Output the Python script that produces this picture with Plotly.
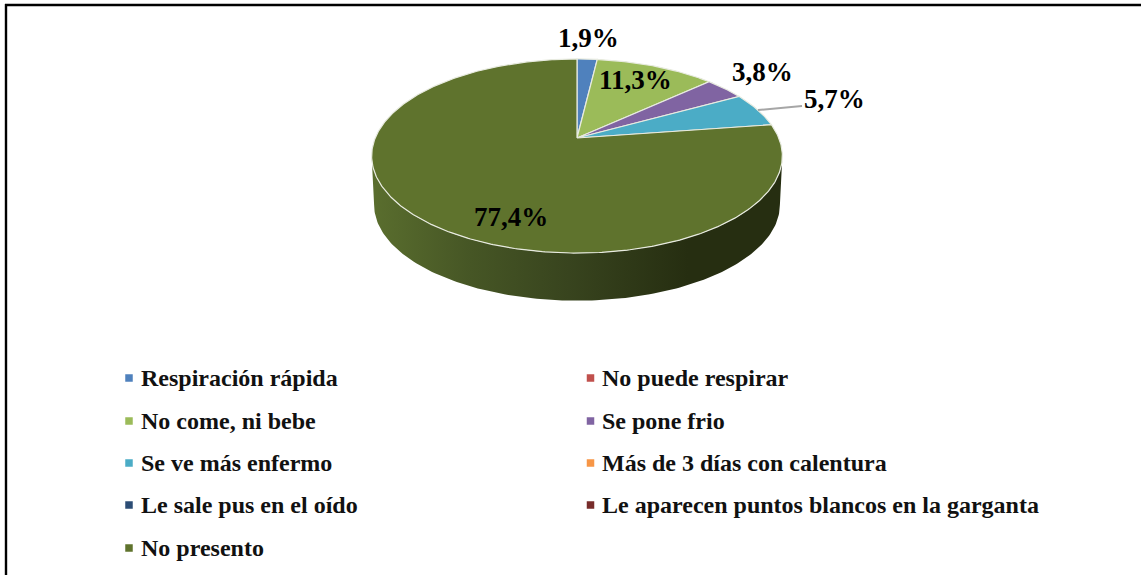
import numpy as np
import plotly.graph_objects as go

CATEGORIES = [
    "Respiración rápida", "No puede respirar", "No come, ni bebe", "Se pone frio",
    "Se ve más enfermo", "Más de 3 días con calentura", "Le sale pus en el oído",
    "Le aparecen puntos blancos en la garganta", "No presento",
]
VALUES = [1.9, 0, 11.3, 3.8, 5.7, 0, 0, 0, 77.4]
LABELS = ["1,9%", "", "11,3%", "3,8%", "5,7%", "", "", "", "77,4%"]
COLORS = ["#4f81bd", "#c0504d", "#9bbb59", "#8064a2", "#4bacc6", "#f79646", "#2c4d75", "#772c2a", "#5f732d"]

SERIF = "Liberation Serif"
CX, CY = 577, 138      # apex of the slices on the page
A, B, C = 93.7, 0.1856, 201.8  # perspective of the tilted disc
DEPTH = 49


def rim(theta, drop=0.0, shrink=1.0):
    # theta runs clockwise from 12 o'clock
    u, v = np.sin(theta), np.cos(theta)
    d = 1 + B * v
    return CX + shrink * C * u / d, CY + drop - shrink * A * v / d


fig = go.Figure()

# side wall along the front of the disc
ts = np.linspace(np.pi + np.arccos(B), np.pi - np.arccos(B), 160)
xt, yt = rim(ts)
xb, yb = rim(ts[::-1], drop=DEPTH, shrink=0.988)
fig.add_trace(go.Scatter(
    x=np.r_[xt, xb], y=np.r_[yt, yb], mode="lines", fill="toself",
    line=dict(color="rgba(0,0,0,0)", width=0),
    fillgradient=dict(type="horizontal", colorscale=[
        [0.0, "#5a6e2e"], [0.24, "#465625"], [0.48, "#38441e"], [0.77, "#262e11"], [1.0, "#262e11"],
    ]),
    hoverinfo="skip", showlegend=False,
))

# top of the pie
cum = 0.0
total = sum(VALUES)
for name, val, color in zip(CATEGORIES, VALUES, COLORS):
    if val == 0:
        continue
    t0 = cum / total * 2 * np.pi
    cum += val
    t1 = cum / total * 2 * np.pi
    ts = np.linspace(t0, t1, max(int(val * 6), 8))
    xr, yr = rim(ts)
    fig.add_trace(go.Scatter(
        x=np.r_[CX, xr, CX], y=np.r_[CY, yr, CY], mode="lines", fill="toself",
        fillcolor=color, line=dict(color="#e8ebe0", width=1.2), name=name,
        hovertemplate=f"{name}: {val}%<extra></extra>", showlegend=False,
    ))

# leader line for the 5,7% label
fig.add_shape(type="line", x0=758, y0=110, x1=802, y1=106, line=dict(color="#a6a6a6", width=2))

# data labels
label_pos = {"1,9%": (588, 38), "11,3%": (635, 80), "3,8%": (762, 72), "5,7%": (834, 99), "77,4%": (511, 217)}
for text in LABELS:
    if text:
        fig.add_annotation(x=label_pos[text][0], y=label_pos[text][1], text=f"<b>{text}</b>", showarrow=False,
                           font=dict(family=SERIF, size=27, color="black"))

# legend, two columns
rows_y = [378, 421, 463, 505, 548]
for i, (name, color) in enumerate(zip(CATEGORIES, COLORS)):
    col, row = i % 2, i // 2
    mx, tx = (129, 139) if col == 0 else (590.5, 600)
    fig.add_trace(go.Scatter(
        x=[mx], y=[rows_y[row]], mode="markers",
        marker=dict(symbol="square", size=7.5, color=color), hoverinfo="skip", showlegend=False,
    ))
    fig.add_annotation(x=tx, y=rows_y[row], text=f"<b>{name}</b>", showarrow=False, xanchor="left",
                       font=dict(family=SERIF, size=24, color="#111111"))

# black frame, only top and left reach the picture
fig.add_shape(type="line", x0=5, y0=5, x1=1141, y1=5, line=dict(color="black", width=2.4))
fig.add_shape(type="line", x0=6, y0=4, x1=6, y1=575, line=dict(color="black", width=2.4))

fig.update_layout(
    width=1141, height=575,
    margin=dict(l=0, r=0, t=0, b=0),
    paper_bgcolor="white",
    plot_bgcolor="white",
    xaxis=dict(range=[0, 1141], visible=False, fixedrange=True),
    yaxis=dict(range=[575, 0], visible=False, fixedrange=True),
    showlegend=False,
)

fig.write_html(
    "out.html",
    config=dict(displayModeBar=False),
    post_script="document.body.style.margin='0';document.body.style.overflow='hidden';",
)
